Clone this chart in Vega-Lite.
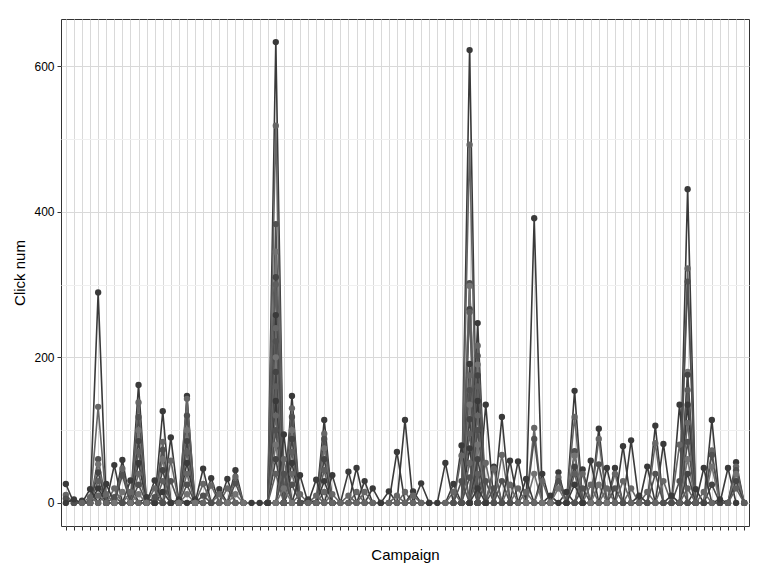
{
"$schema":"https://vega.github.io/schema/vega-lite/v6.json",
"width":688,"height":507,
"autosize":{"type":"none"},
"padding":{"left":61,"top":19,"right":19,"bottom":50},
"background":"white",
"config":{"view":{"stroke":"#333333","strokeWidth":1},"font":"Liberation Sans"},
"data":{"values":[
{"c":1,"s":1,"v":26},{"c":2,"s":1,"v":0},{"c":3,"s":1,"v":3},{"c":4,"s":1,"v":0},{"c":5,"s":1,"v":289},{"c":6,"s":1,"v":0},{"c":7,"s":1,"v":52},{"c":8,"s":1,"v":0},{"c":9,"s":1,"v":31},{"c":10,"s":1,"v":0},{"c":11,"s":1,"v":8},{"c":12,"s":1,"v":0},{"c":13,"s":1,"v":126},{"c":14,"s":1,"v":0},{"c":15,"s":1,"v":5},{"c":16,"s":1,"v":0},{"c":17,"s":1,"v":5},{"c":18,"s":1,"v":0},{"c":19,"s":1,"v":34},{"c":20,"s":1,"v":0},{"c":21,"s":1,"v":33},{"c":22,"s":1,"v":0},{"c":26,"s":1,"v":0},{"c":27,"s":1,"v":633},{"c":28,"s":1,"v":0},{"c":29,"s":1,"v":147},{"c":30,"s":1,"v":0},{"c":31,"s":1,"v":5},{"c":32,"s":1,"v":0},{"c":33,"s":1,"v":114},{"c":34,"s":1,"v":0},{"c":36,"s":1,"v":0},{"c":37,"s":1,"v":48},{"c":38,"s":1,"v":0},{"c":39,"s":1,"v":20},{"c":40,"s":1,"v":0},{"c":41,"s":1,"v":16},{"c":42,"s":1,"v":0},{"c":43,"s":1,"v":114},{"c":44,"s":1,"v":0},{"c":45,"s":1,"v":27},{"c":46,"s":1,"v":0},{"c":48,"s":1,"v":0},{"c":49,"s":1,"v":26},{"c":50,"s":1,"v":0},{"c":51,"s":1,"v":622},{"c":52,"s":1,"v":0},{"c":53,"s":1,"v":135},{"c":54,"s":1,"v":0},{"c":55,"s":1,"v":118},{"c":56,"s":1,"v":0},{"c":57,"s":1,"v":57},{"c":58,"s":1,"v":0},{"c":59,"s":1,"v":391},{"c":60,"s":1,"v":0},{"c":61,"s":1,"v":10},{"c":62,"s":1,"v":0},{"c":63,"s":1,"v":15},{"c":64,"s":1,"v":0},{"c":65,"s":1,"v":46},{"c":66,"s":1,"v":0},{"c":67,"s":1,"v":102},{"c":68,"s":1,"v":0},{"c":69,"s":1,"v":48},{"c":70,"s":1,"v":0},{"c":71,"s":1,"v":86},{"c":72,"s":1,"v":0},{"c":73,"s":1,"v":50},{"c":74,"s":1,"v":0},{"c":75,"s":1,"v":81},{"c":76,"s":1,"v":0},{"c":77,"s":1,"v":135},{"c":78,"s":1,"v":0},{"c":79,"s":1,"v":19},{"c":80,"s":1,"v":0},{"c":81,"s":1,"v":114},{"c":82,"s":1,"v":0},{"c":83,"s":1,"v":48},{"c":84,"s":1,"v":0},
{"c":1,"s":2,"v":11},{"c":2,"s":2,"v":0},{"c":4,"s":2,"v":0},{"c":5,"s":2,"v":132},{"c":6,"s":2,"v":0},{"c":7,"s":2,"v":20},{"c":8,"s":2,"v":0},{"c":9,"s":2,"v":15},{"c":10,"s":2,"v":0},{"c":12,"s":2,"v":0},{"c":13,"s":2,"v":84},{"c":14,"s":2,"v":0},{"c":18,"s":2,"v":0},{"c":19,"s":2,"v":24},{"c":20,"s":2,"v":0},{"c":21,"s":2,"v":20},{"c":22,"s":2,"v":0},{"c":26,"s":2,"v":0},{"c":27,"s":2,"v":518},{"c":28,"s":2,"v":0},{"c":29,"s":2,"v":130},{"c":30,"s":2,"v":0},{"c":32,"s":2,"v":0},{"c":33,"s":2,"v":95},{"c":34,"s":2,"v":0},{"c":36,"s":2,"v":0},{"c":37,"s":2,"v":15},{"c":38,"s":2,"v":0},{"c":42,"s":2,"v":0},{"c":43,"s":2,"v":15},{"c":44,"s":2,"v":0},{"c":48,"s":2,"v":0},{"c":49,"s":2,"v":15},{"c":50,"s":2,"v":0},{"c":51,"s":2,"v":492},{"c":52,"s":2,"v":0},{"c":53,"s":2,"v":55},{"c":54,"s":2,"v":0},{"c":55,"s":2,"v":66},{"c":56,"s":2,"v":0},{"c":57,"s":2,"v":20},{"c":58,"s":2,"v":0},{"c":59,"s":2,"v":103},{"c":60,"s":2,"v":0},{"c":64,"s":2,"v":0},{"c":65,"s":2,"v":40},{"c":66,"s":2,"v":0},{"c":67,"s":2,"v":88},{"c":68,"s":2,"v":0},{"c":69,"s":2,"v":40},{"c":70,"s":2,"v":0},{"c":71,"s":2,"v":20},{"c":72,"s":2,"v":0},{"c":73,"s":2,"v":15},{"c":74,"s":2,"v":0},{"c":75,"s":2,"v":30},{"c":76,"s":2,"v":0},{"c":77,"s":2,"v":80},{"c":78,"s":2,"v":0},{"c":80,"s":2,"v":0},{"c":81,"s":2,"v":72},{"c":82,"s":2,"v":0},
{"c":1,"s":3,"v":6},{"c":2,"s":3,"v":0},{"c":4,"s":3,"v":0},{"c":5,"s":3,"v":60},{"c":6,"s":3,"v":0},{"c":7,"s":3,"v":8},{"c":8,"s":3,"v":0},{"c":12,"s":3,"v":0},{"c":13,"s":3,"v":73},{"c":14,"s":3,"v":0},{"c":26,"s":3,"v":0},{"c":27,"s":3,"v":383},{"c":28,"s":3,"v":0},{"c":29,"s":3,"v":118},{"c":30,"s":3,"v":0},{"c":32,"s":3,"v":0},{"c":33,"s":3,"v":88},{"c":34,"s":3,"v":0},{"c":50,"s":3,"v":0},{"c":51,"s":3,"v":302},{"c":52,"s":3,"v":0},{"c":53,"s":3,"v":30},{"c":54,"s":3,"v":0},{"c":55,"s":3,"v":30},{"c":56,"s":3,"v":0},{"c":58,"s":3,"v":0},{"c":59,"s":3,"v":88},{"c":60,"s":3,"v":0},{"c":64,"s":3,"v":0},{"c":65,"s":3,"v":20},{"c":66,"s":3,"v":0},{"c":67,"s":3,"v":53},{"c":68,"s":3,"v":0},{"c":69,"s":3,"v":20},{"c":70,"s":3,"v":0},{"c":76,"s":3,"v":0},{"c":77,"s":3,"v":30},{"c":78,"s":3,"v":0},{"c":80,"s":3,"v":0},{"c":81,"s":3,"v":66},{"c":82,"s":3,"v":0},
{"c":4,"s":4,"v":0},{"c":5,"s":4,"v":53},{"c":6,"s":4,"v":0},{"c":12,"s":4,"v":0},{"c":13,"s":4,"v":60},{"c":14,"s":4,"v":0},{"c":26,"s":4,"v":0},{"c":27,"s":4,"v":345},{"c":28,"s":4,"v":0},{"c":29,"s":4,"v":100},{"c":30,"s":4,"v":0},{"c":32,"s":4,"v":0},{"c":33,"s":4,"v":75},{"c":34,"s":4,"v":0},{"c":50,"s":4,"v":0},{"c":51,"s":4,"v":298},{"c":52,"s":4,"v":0},{"c":58,"s":4,"v":0},{"c":59,"s":4,"v":40},{"c":60,"s":4,"v":0},{"c":66,"s":4,"v":0},{"c":67,"s":4,"v":25},{"c":68,"s":4,"v":0},{"c":80,"s":4,"v":0},{"c":81,"s":4,"v":50},{"c":82,"s":4,"v":0},
{"c":4,"s":5,"v":0},{"c":5,"s":5,"v":42},{"c":6,"s":5,"v":0},{"c":12,"s":5,"v":0},{"c":13,"s":5,"v":45},{"c":14,"s":5,"v":0},{"c":26,"s":5,"v":0},{"c":27,"s":5,"v":310},{"c":28,"s":5,"v":0},{"c":29,"s":5,"v":88},{"c":30,"s":5,"v":0},{"c":32,"s":5,"v":0},{"c":33,"s":5,"v":60},{"c":34,"s":5,"v":0},{"c":50,"s":5,"v":0},{"c":51,"s":5,"v":266},{"c":52,"s":5,"v":0},{"c":80,"s":5,"v":0},{"c":81,"s":5,"v":25},{"c":82,"s":5,"v":0},
{"c":4,"s":6,"v":0},{"c":5,"s":6,"v":30},{"c":6,"s":6,"v":0},{"c":12,"s":6,"v":0},{"c":13,"s":6,"v":30},{"c":14,"s":6,"v":0},{"c":26,"s":6,"v":0},{"c":27,"s":6,"v":300},{"c":28,"s":6,"v":0},{"c":29,"s":6,"v":70},{"c":30,"s":6,"v":0},{"c":32,"s":6,"v":0},{"c":33,"s":6,"v":45},{"c":34,"s":6,"v":0},{"c":50,"s":6,"v":0},{"c":51,"s":6,"v":262},{"c":52,"s":6,"v":0},
{"c":4,"s":7,"v":0},{"c":5,"s":7,"v":20},{"c":6,"s":7,"v":0},{"c":12,"s":7,"v":0},{"c":13,"s":7,"v":15},{"c":14,"s":7,"v":0},{"c":26,"s":7,"v":0},{"c":27,"s":7,"v":258},{"c":28,"s":7,"v":0},{"c":29,"s":7,"v":55},{"c":30,"s":7,"v":0},{"c":32,"s":7,"v":0},{"c":33,"s":7,"v":30},{"c":34,"s":7,"v":0},{"c":50,"s":7,"v":0},{"c":51,"s":7,"v":191},{"c":52,"s":7,"v":0},
{"c":4,"s":8,"v":0},{"c":5,"s":8,"v":10},{"c":6,"s":8,"v":0},{"c":26,"s":8,"v":0},{"c":27,"s":8,"v":240},{"c":28,"s":8,"v":0},{"c":29,"s":8,"v":40},{"c":30,"s":8,"v":0},{"c":32,"s":8,"v":0},{"c":33,"s":8,"v":15},{"c":34,"s":8,"v":0},{"c":50,"s":8,"v":0},{"c":51,"s":8,"v":175},{"c":52,"s":8,"v":0},
{"c":26,"s":9,"v":0},{"c":27,"s":9,"v":222},{"c":28,"s":9,"v":0},{"c":29,"s":9,"v":25},{"c":30,"s":9,"v":0},{"c":50,"s":9,"v":0},{"c":51,"s":9,"v":155},{"c":52,"s":9,"v":0},
{"c":26,"s":10,"v":0},{"c":27,"s":10,"v":200},{"c":28,"s":10,"v":0},{"c":50,"s":10,"v":0},{"c":51,"s":10,"v":135},{"c":52,"s":10,"v":0},
{"c":26,"s":11,"v":0},{"c":27,"s":11,"v":180},{"c":28,"s":11,"v":0},{"c":50,"s":11,"v":0},{"c":51,"s":11,"v":115},{"c":52,"s":11,"v":0},
{"c":26,"s":12,"v":0},{"c":27,"s":12,"v":160},{"c":28,"s":12,"v":0},{"c":50,"s":12,"v":0},{"c":51,"s":12,"v":95},{"c":52,"s":12,"v":0},
{"c":26,"s":13,"v":0},{"c":27,"s":13,"v":140},{"c":28,"s":13,"v":0},{"c":50,"s":13,"v":0},{"c":51,"s":13,"v":75},{"c":52,"s":13,"v":0},
{"c":26,"s":14,"v":0},{"c":27,"s":14,"v":120},{"c":28,"s":14,"v":0},{"c":50,"s":14,"v":0},{"c":51,"s":14,"v":55},{"c":52,"s":14,"v":0},
{"c":26,"s":15,"v":0},{"c":27,"s":15,"v":100},{"c":28,"s":15,"v":0},{"c":50,"s":15,"v":0},{"c":51,"s":15,"v":35},{"c":52,"s":15,"v":0},
{"c":26,"s":16,"v":0},{"c":27,"s":16,"v":80},{"c":28,"s":16,"v":0},
{"c":26,"s":17,"v":0},{"c":27,"s":17,"v":60},{"c":28,"s":17,"v":0},
{"c":26,"s":18,"v":0},{"c":27,"s":18,"v":40},{"c":28,"s":18,"v":0},
{"c":1,"s":101,"v":0},{"c":2,"s":101,"v":5},{"c":3,"s":101,"v":0},{"c":4,"s":101,"v":19},{"c":5,"s":101,"v":0},{"c":6,"s":101,"v":26},{"c":7,"s":101,"v":0},{"c":8,"s":101,"v":59},{"c":9,"s":101,"v":0},{"c":10,"s":101,"v":162},{"c":11,"s":101,"v":0},{"c":12,"s":101,"v":31},{"c":13,"s":101,"v":0},{"c":14,"s":101,"v":90},{"c":15,"s":101,"v":0},{"c":16,"s":101,"v":147},{"c":17,"s":101,"v":0},{"c":18,"s":101,"v":47},{"c":19,"s":101,"v":0},{"c":20,"s":101,"v":19},{"c":21,"s":101,"v":0},{"c":22,"s":101,"v":45},{"c":23,"s":101,"v":0},{"c":24,"s":101,"v":0},{"c":25,"s":101,"v":0},{"c":26,"s":101,"v":0},{"c":27,"s":101,"v":0},{"c":28,"s":101,"v":94},{"c":29,"s":101,"v":0},{"c":30,"s":101,"v":38},{"c":31,"s":101,"v":0},{"c":32,"s":101,"v":32},{"c":33,"s":101,"v":0},{"c":34,"s":101,"v":38},{"c":35,"s":101,"v":0},{"c":36,"s":101,"v":43},{"c":37,"s":101,"v":0},{"c":38,"s":101,"v":30},{"c":39,"s":101,"v":0},{"c":40,"s":101,"v":0},{"c":41,"s":101,"v":0},{"c":42,"s":101,"v":70},{"c":43,"s":101,"v":0},{"c":44,"s":101,"v":16},{"c":45,"s":101,"v":0},{"c":46,"s":101,"v":0},{"c":47,"s":101,"v":0},{"c":48,"s":101,"v":55},{"c":49,"s":101,"v":0},{"c":50,"s":101,"v":79},{"c":51,"s":101,"v":0},{"c":52,"s":101,"v":247},{"c":53,"s":101,"v":0},{"c":54,"s":101,"v":50},{"c":55,"s":101,"v":0},{"c":56,"s":101,"v":58},{"c":57,"s":101,"v":0},{"c":58,"s":101,"v":33},{"c":59,"s":101,"v":0},{"c":60,"s":101,"v":40},{"c":61,"s":101,"v":0},{"c":62,"s":101,"v":42},{"c":63,"s":101,"v":0},{"c":64,"s":101,"v":154},{"c":65,"s":101,"v":0},{"c":66,"s":101,"v":58},{"c":67,"s":101,"v":0},{"c":68,"s":101,"v":48},{"c":69,"s":101,"v":0},{"c":70,"s":101,"v":78},{"c":71,"s":101,"v":0},{"c":72,"s":101,"v":10},{"c":73,"s":101,"v":0},{"c":74,"s":101,"v":106},{"c":75,"s":101,"v":0},{"c":76,"s":101,"v":10},{"c":77,"s":101,"v":0},{"c":78,"s":101,"v":431},{"c":79,"s":101,"v":0},{"c":80,"s":101,"v":48},{"c":81,"s":101,"v":0},{"c":82,"s":101,"v":5},{"c":83,"s":101,"v":0},{"c":84,"s":101,"v":56},{"c":85,"s":101,"v":0},
{"c":3,"s":102,"v":0},{"c":4,"s":102,"v":8},{"c":5,"s":102,"v":0},{"c":6,"s":102,"v":12},{"c":7,"s":102,"v":0},{"c":8,"s":102,"v":47},{"c":9,"s":102,"v":0},{"c":10,"s":102,"v":138},{"c":11,"s":102,"v":0},{"c":12,"s":102,"v":20},{"c":13,"s":102,"v":0},{"c":14,"s":102,"v":58},{"c":15,"s":102,"v":0},{"c":16,"s":102,"v":143},{"c":17,"s":102,"v":0},{"c":18,"s":102,"v":26},{"c":19,"s":102,"v":0},{"c":20,"s":102,"v":12},{"c":21,"s":102,"v":0},{"c":22,"s":102,"v":36},{"c":23,"s":102,"v":0},{"c":27,"s":102,"v":0},{"c":28,"s":102,"v":60},{"c":29,"s":102,"v":0},{"c":30,"s":102,"v":12},{"c":31,"s":102,"v":0},{"c":32,"s":102,"v":10},{"c":33,"s":102,"v":0},{"c":34,"s":102,"v":12},{"c":35,"s":102,"v":0},{"c":36,"s":102,"v":10},{"c":37,"s":102,"v":0},{"c":38,"s":102,"v":15},{"c":39,"s":102,"v":0},{"c":41,"s":102,"v":0},{"c":42,"s":102,"v":10},{"c":43,"s":102,"v":0},{"c":44,"s":102,"v":10},{"c":45,"s":102,"v":0},{"c":49,"s":102,"v":0},{"c":50,"s":102,"v":65},{"c":51,"s":102,"v":0},{"c":52,"s":102,"v":216},{"c":53,"s":102,"v":0},{"c":54,"s":102,"v":47},{"c":55,"s":102,"v":0},{"c":56,"s":102,"v":25},{"c":57,"s":102,"v":0},{"c":58,"s":102,"v":15},{"c":59,"s":102,"v":0},{"c":60,"s":102,"v":30},{"c":61,"s":102,"v":0},{"c":62,"s":102,"v":35},{"c":63,"s":102,"v":0},{"c":64,"s":102,"v":118},{"c":65,"s":102,"v":0},{"c":66,"s":102,"v":25},{"c":67,"s":102,"v":0},{"c":68,"s":102,"v":20},{"c":69,"s":102,"v":0},{"c":70,"s":102,"v":30},{"c":71,"s":102,"v":0},{"c":73,"s":102,"v":0},{"c":74,"s":102,"v":82},{"c":75,"s":102,"v":0},{"c":77,"s":102,"v":0},{"c":78,"s":102,"v":322},{"c":79,"s":102,"v":0},{"c":80,"s":102,"v":15},{"c":81,"s":102,"v":0},{"c":83,"s":102,"v":0},{"c":84,"s":102,"v":50},{"c":85,"s":102,"v":0},
{"c":7,"s":103,"v":0},{"c":8,"s":103,"v":38},{"c":9,"s":103,"v":0},{"c":10,"s":103,"v":118},{"c":11,"s":103,"v":0},{"c":12,"s":103,"v":8},{"c":13,"s":103,"v":0},{"c":14,"s":103,"v":30},{"c":15,"s":103,"v":0},{"c":16,"s":103,"v":120},{"c":17,"s":103,"v":0},{"c":18,"s":103,"v":10},{"c":19,"s":103,"v":0},{"c":21,"s":103,"v":0},{"c":22,"s":103,"v":27},{"c":23,"s":103,"v":0},{"c":27,"s":103,"v":0},{"c":28,"s":103,"v":40},{"c":29,"s":103,"v":0},{"c":49,"s":103,"v":0},{"c":50,"s":103,"v":30},{"c":51,"s":103,"v":0},{"c":52,"s":103,"v":202},{"c":53,"s":103,"v":0},{"c":54,"s":103,"v":20},{"c":55,"s":103,"v":0},{"c":61,"s":103,"v":0},{"c":62,"s":103,"v":30},{"c":63,"s":103,"v":0},{"c":64,"s":103,"v":71},{"c":65,"s":103,"v":0},{"c":73,"s":103,"v":0},{"c":74,"s":103,"v":40},{"c":75,"s":103,"v":0},{"c":77,"s":103,"v":0},{"c":78,"s":103,"v":304},{"c":79,"s":103,"v":0},{"c":83,"s":103,"v":0},{"c":84,"s":103,"v":45},{"c":85,"s":103,"v":0},
{"c":7,"s":104,"v":0},{"c":8,"s":104,"v":15},{"c":9,"s":104,"v":0},{"c":10,"s":104,"v":100},{"c":11,"s":104,"v":0},{"c":15,"s":104,"v":0},{"c":16,"s":104,"v":100},{"c":17,"s":104,"v":0},{"c":21,"s":104,"v":0},{"c":22,"s":104,"v":12},{"c":23,"s":104,"v":0},{"c":27,"s":104,"v":0},{"c":28,"s":104,"v":20},{"c":29,"s":104,"v":0},{"c":51,"s":104,"v":0},{"c":52,"s":104,"v":190},{"c":53,"s":104,"v":0},{"c":61,"s":104,"v":0},{"c":62,"s":104,"v":20},{"c":63,"s":104,"v":0},{"c":64,"s":104,"v":65},{"c":65,"s":104,"v":0},{"c":77,"s":104,"v":0},{"c":78,"s":104,"v":180},{"c":79,"s":104,"v":0},{"c":83,"s":104,"v":0},{"c":84,"s":104,"v":40},{"c":85,"s":104,"v":0},
{"c":9,"s":105,"v":0},{"c":10,"s":105,"v":85},{"c":11,"s":105,"v":0},{"c":15,"s":105,"v":0},{"c":16,"s":105,"v":85},{"c":17,"s":105,"v":0},{"c":51,"s":105,"v":0},{"c":52,"s":105,"v":175},{"c":53,"s":105,"v":0},{"c":63,"s":105,"v":0},{"c":64,"s":105,"v":50},{"c":65,"s":105,"v":0},{"c":77,"s":105,"v":0},{"c":78,"s":105,"v":176},{"c":79,"s":105,"v":0},{"c":83,"s":105,"v":0},{"c":84,"s":105,"v":30},{"c":85,"s":105,"v":0},
{"c":9,"s":106,"v":0},{"c":10,"s":106,"v":70},{"c":11,"s":106,"v":0},{"c":15,"s":106,"v":0},{"c":16,"s":106,"v":70},{"c":17,"s":106,"v":0},{"c":51,"s":106,"v":0},{"c":52,"s":106,"v":160},{"c":53,"s":106,"v":0},{"c":63,"s":106,"v":0},{"c":64,"s":106,"v":40},{"c":65,"s":106,"v":0},{"c":77,"s":106,"v":0},{"c":78,"s":106,"v":155},{"c":79,"s":106,"v":0},{"c":83,"s":106,"v":0},{"c":84,"s":106,"v":20},{"c":85,"s":106,"v":0},
{"c":9,"s":107,"v":0},{"c":10,"s":107,"v":55},{"c":11,"s":107,"v":0},{"c":15,"s":107,"v":0},{"c":16,"s":107,"v":55},{"c":17,"s":107,"v":0},{"c":51,"s":107,"v":0},{"c":52,"s":107,"v":140},{"c":53,"s":107,"v":0},{"c":63,"s":107,"v":0},{"c":64,"s":107,"v":25},{"c":65,"s":107,"v":0},{"c":77,"s":107,"v":0},{"c":78,"s":107,"v":135},{"c":79,"s":107,"v":0},
{"c":9,"s":108,"v":0},{"c":10,"s":108,"v":40},{"c":11,"s":108,"v":0},{"c":15,"s":108,"v":0},{"c":16,"s":108,"v":40},{"c":17,"s":108,"v":0},{"c":51,"s":108,"v":0},{"c":52,"s":108,"v":120},{"c":53,"s":108,"v":0},{"c":77,"s":108,"v":0},{"c":78,"s":108,"v":110},{"c":79,"s":108,"v":0},
{"c":9,"s":109,"v":0},{"c":10,"s":109,"v":25},{"c":11,"s":109,"v":0},{"c":15,"s":109,"v":0},{"c":16,"s":109,"v":25},{"c":17,"s":109,"v":0},{"c":51,"s":109,"v":0},{"c":52,"s":109,"v":100},{"c":53,"s":109,"v":0},{"c":77,"s":109,"v":0},{"c":78,"s":109,"v":84},{"c":79,"s":109,"v":0},
{"c":9,"s":110,"v":0},{"c":10,"s":110,"v":12},{"c":11,"s":110,"v":0},{"c":15,"s":110,"v":0},{"c":16,"s":110,"v":12},{"c":17,"s":110,"v":0},{"c":51,"s":110,"v":0},{"c":52,"s":110,"v":80},{"c":53,"s":110,"v":0},{"c":77,"s":110,"v":0},{"c":78,"s":110,"v":60},{"c":79,"s":110,"v":0},
{"c":51,"s":111,"v":0},{"c":52,"s":111,"v":60},{"c":53,"s":111,"v":0},{"c":77,"s":111,"v":0},{"c":78,"s":111,"v":40},{"c":79,"s":111,"v":0},
{"c":51,"s":112,"v":0},{"c":52,"s":112,"v":40},{"c":53,"s":112,"v":0},{"c":77,"s":112,"v":0},{"c":78,"s":112,"v":20},{"c":79,"s":112,"v":0},
{"c":51,"s":113,"v":0},{"c":52,"s":113,"v":20},{"c":53,"s":113,"v":0}
]},
"encoding":{
"x":{"field":"c","type":"ordinal","scale":{"type":"point","padding":0.6},
"axis":{"labels":false,"ticks":true,"tickSize":4,"tickColor":"#333333","tickWidth":1,"domain":false,"grid":true,"gridColor":"#d9d9d9","gridWidth":1,"title":"Campaign","titleFontSize":15,"titleFontWeight":"normal","titleColor":"black","titleFont":"Liberation Sans","titlePadding":17}},
"y":{"field":"v","type":"quantitative","scale":{"domain":[-31.65,664.65],"nice":false,"zero":false},
"axis":{"values":[0,100,200,300,400,500,600],"labelExpr":"datum.value % 200 === 0 ? datum.label : ''","labelFontSize":12,"labelColor":"black","labelFont":"Liberation Sans","labelPadding":3,"tickSize":4,"tickColor":"#333333","tickOpacity":{"condition":{"test":"datum.value % 200 === 0","value":1},"value":0},"domain":false,"grid":true,"gridColor":{"condition":{"test":"datum.value % 200 === 0","value":"#d9d9d9"},"value":"#f0f0f0"},"title":"Click num","titleFontSize":15,"titleFontWeight":"normal","titleColor":"black","titleFont":"Liberation Sans","titlePadding":6}},
"color":{"field":"s","type":"nominal","legend":null,"scale":{"range":["#3a3a3a","#666666","#505050","#737373","#444444","#5e5e5e"]}}
},
"layer":[
{"mark":{"type":"line","strokeWidth":1.6},"encoding":{}},
{"mark":{"type":"point","filled":true,"size":40,"opacity":1},"encoding":{}}
]
}
